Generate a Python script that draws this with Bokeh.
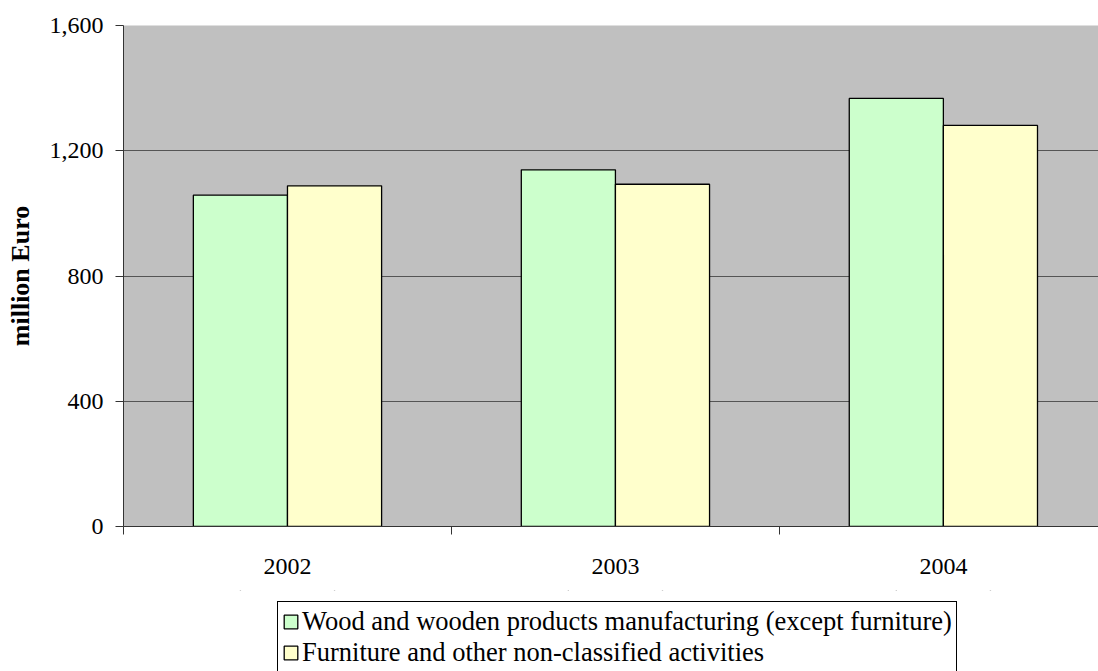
import numpy as np
from bokeh.plotting import figure
from bokeh.layouts import column
from bokeh.models import (Range1d, FixedTicker, NumeralTickFormatter, Legend,
                          LegendItem, ColumnDataSource, BoxAnnotation)
from bokeh.embed import file_html
from bokeh.resources import INLINE

years = ["2002", "2003", "2004"]
wood = [1058, 1139, 1367]
furniture = [1088, 1093, 1281]
y_ticks = [0, 400, 800, 1200, 1600]
series_names = ["Wood and wooden products manufacturing (except furniture)",
                "Furniture and other non-classified activities"]

FONT = "Liberation Serif"
GREEN = "#CCFFCC"
YELLOW = "#FFFFCC"

centers = np.arange(len(years)) + 0.5
bar_w = 0.287
src = ColumnDataSource(dict(
    xw=centers - bar_w / 2, xf=centers + bar_w / 2, wood=wood, furniture=furniture))

p = figure(width=1098, height=590, output_backend="svg", toolbar_location=None,
           x_range=Range1d(0, 2.973), y_range=Range1d(0, 1600),
           min_border_left=123, min_border_top=25, min_border_right=0,
           min_border_bottom=64)

p.background_fill_color = "#C0C0C0"
p.border_fill_color = "white"
p.outline_line_color = None

p.vbar(x="xw", top="wood", width=bar_w, bottom=0, source=src,
       fill_color=GREEN, line_color="black", line_width=1.3)
p.vbar(x="xf", top="furniture", width=bar_w, bottom=0, source=src,
       fill_color=YELLOW, line_color="black", line_width=1.3)

# x axis: labels at category centres, ticks at category boundaries
xa = p.xaxis[0]
xa.ticker = FixedTicker(ticks=list(centers), minor_ticks=list(range(len(years) + 1)))
xa.major_label_overrides = {float(c): y for c, y in zip(centers, years)}
xa.major_tick_out = 0
xa.major_tick_in = 0
xa.minor_tick_out = 8
xa.minor_tick_in = 0
xa.minor_tick_line_color = "#333333"
xa.axis_line_color = "#333333"
xa.major_label_standoff = 24
xa.major_label_text_font = FONT
xa.major_label_text_font_size = "24px"
xa.major_label_text_color = "black"

ya = p.yaxis[0]
ya.ticker = FixedTicker(ticks=y_ticks)
ya.formatter = NumeralTickFormatter(format="0,0")
ya.major_tick_out = 8
ya.major_tick_in = 0
ya.minor_tick_line_color = None
ya.major_tick_line_color = "#333333"
ya.axis_line_color = "#333333"
ya.major_label_standoff = 12
ya.major_label_text_font = FONT
ya.major_label_text_font_size = "24px"
ya.major_label_text_color = "black"
ya.axis_label = "million Euro"
ya.axis_label_text_font = FONT
ya.axis_label_text_font_size = "26px"
ya.axis_label_text_font_style = "bold"
ya.axis_label_text_color = "black"
ya.axis_label_standoff = 12

p.xgrid.grid_line_color = None
p.ygrid.ticker = FixedTicker(ticks=y_ticks)
p.ygrid.grid_line_color = "#555555"
p.ygrid.grid_line_width = 1.2

# legend strip below the chart (same series as proxies, hidden under a white
# cover, so that only their legend swatches show)
p2 = figure(width=1098, height=81, output_backend="svg", toolbar_location=None,
            x_range=Range1d(0, 2.973), y_range=Range1d(-2, -1),
            min_border_left=123, min_border_right=0, min_border_top=0,
            min_border_bottom=0, x_axis_type=None, y_axis_type=None)
p2.outline_line_color = None
p2.grid.grid_line_color = None
lw = p2.vbar(x="xw", top="wood", width=0, bottom=0, source=src,
             fill_color=GREEN, line_color="black", line_width=1.3)
lf = p2.vbar(x="xf", top="furniture", width=0, bottom=0, source=src,
             fill_color=YELLOW, line_color="black", line_width=1.3)
p2.add_layout(BoxAnnotation(fill_color="white", fill_alpha=1.0, line_color=None,
                            line_alpha=0))

legend = Legend(items=[
    LegendItem(label=series_names[0], renderers=[lw]),
    LegendItem(label=series_names[1], renderers=[lf]),
], location=(154, -2), orientation="vertical")
legend.label_text_font = FONT
legend.label_text_font_size = "26.5px"
legend.label_text_color = "black"
legend.glyph_width = 17
legend.glyph_height = 17
legend.label_height = 26
legend.label_standoff = 3
legend.spacing = 0
legend.padding = 4
legend.margin = 0
legend.border_line_color = "black"
legend.border_line_alpha = 1.0
legend.border_line_width = 1
legend.background_fill_color = "white"
legend.background_fill_alpha = 1.0
p2.add_layout(legend, "center")

layout = column(p, p2, spacing=0)
open("out.html", "w").write(file_html(layout, INLINE))
